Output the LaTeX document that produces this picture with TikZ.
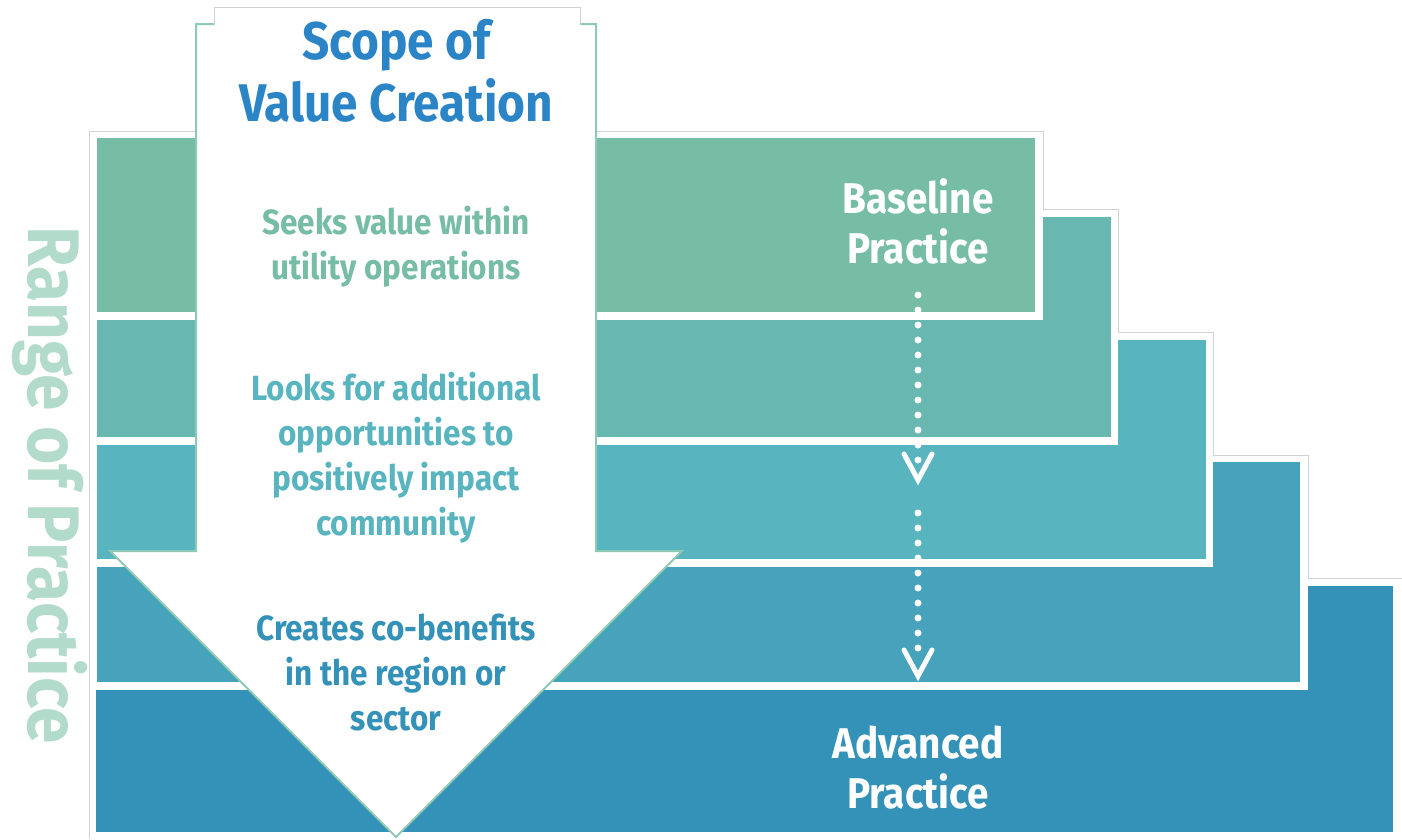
\documentclass[tikz,border=0pt]{standalone}
\usepackage{fontspec}
\setmainfont{Fira Sans}[FakeStretch=0.9]
\definecolor{cA}{HTML}{77BDA6}
\definecolor{cB}{HTML}{68B8B1}
\definecolor{cC}{HTML}{58B5C0}
\definecolor{cD}{HTML}{47A3BC}
\definecolor{cE}{HTML}{3492B9}
\definecolor{arrowline}{HTML}{8CCAB3}
\definecolor{titleblue}{HTML}{2A84C6}
\definecolor{framegray}{HTML}{D2D2D2}
\definecolor{rangegreen}{HTML}{B3DBCB}
\begin{document}
\begin{tikzpicture}[x=1pt,y=-1pt,
  bodytext/.style={align=center,font=\fontsize{35}{45}\selectfont\bfseries},
  practicetext/.style={align=center,text=white,font=\fontsize{43}{50}\selectfont\bfseries},
  dotline/.style={white,line width=7pt,line cap=round,dash pattern=on 0pt off 15pt},
  chevron/.style={white,line width=5pt,line cap=round,line join=miter}]
\useasboundingbox (0,0) rectangle (1402,839);
% bars, bottom first
\fill[white] (88,578) rectangle (1402,840);
\fill[cE] (96,586) rectangle (1393,832);
\fill[white] (89,455) rectangle (1308,690);
\fill[cD] (97,462) rectangle (1300,682);
\fill[white] (89,332) rectangle (1213,567);
\fill[cC] (97,340) rectangle (1206,559);
\fill[white] (89,209) rectangle (1118,445);
\fill[cB] (97,217) rectangle (1111,437);
\fill[white] (89,131) rectangle (1043,320);
\fill[cA] (97,138) rectangle (1035,312);
% frame outline
\draw[framegray,line width=1pt] (89,839) -- (89,131) -- (1043,131) -- (1043,209) -- (1118,209) -- (1118,332) -- (1213,332) -- (1213,455) -- (1308,455) -- (1308,578) -- (1402,578);
% big arrow
\draw[arrowline,fill=white,line width=2pt,line join=miter]
  (196,24) -- (196,551) -- (110,551) -- (396,837) -- (682,551) -- (596,551) -- (596,24) -- cycle;
\fill[white] (214,7) rectangle (580,30);
\draw[framegray,line width=1pt] (214,25) -- (214,7) -- (580,7) -- (580,25);
% texts
\node[align=center,text=titleblue,font=\fontsize{53}{62}\selectfont\bfseries] (title) at (396,71) {Scope of\\Value Creation};
\node[bodytext,text=cA] (t1) at (396,247) {Seeks value within\\utility operations};
\node[bodytext,text=cC] (t2) at (396,458) {Looks for additional\\opportunities to\\positively impact\\community};
\node[bodytext,text=cE] (t3) at (396,673) {Creates co-benefits\\in the region or\\sector};
\node[practicetext] (base) at (918,221) {Baseline\\Practice};
\node[practicetext] (adv) at (918,768) {Advanced\\Practice};
\node[rotate=-90,text=rangegreen,font=\fontsize{73}{80}\selectfont\bfseries] (range) at (50,485) {Range of Practice};
% dotted arrows
\coordinate (d1s) at (918,295);
\coordinate (d1e) at (918,463);
\coordinate (h1) at (918,480);
\coordinate (h1l) at (904,454);
\coordinate (h1r) at (932,454);
\coordinate (d2s) at (918,513);
\coordinate (d2e) at (918,650);
\coordinate (h2) at (918,676);
\coordinate (h2l) at (904,650);
\coordinate (h2r) at (932,650);
\draw[dotline] (d1s) -- (d1e);
\draw[chevron] (h1l) -- (h1) -- (h1r);
\draw[dotline] (d2s) -- (d2e);
\draw[chevron] (h2l) -- (h2) -- (h2r);
\end{tikzpicture}
\end{document}
